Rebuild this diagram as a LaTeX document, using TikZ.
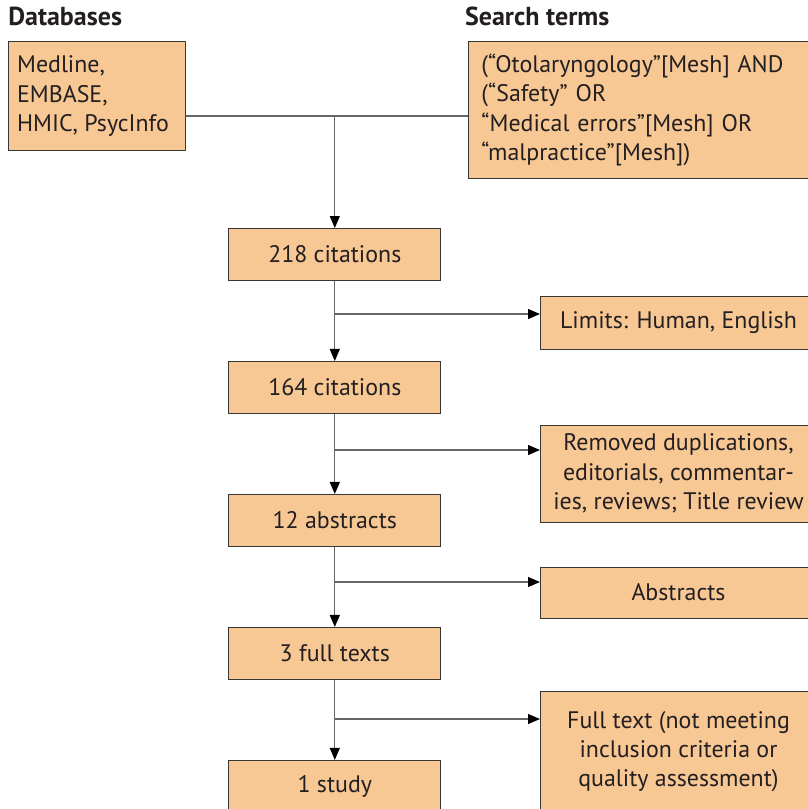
\documentclass[tikz,border=0pt]{standalone}
\usepackage{fontspec}
\setmainfont{PT Sans}
\usepackage{tikz}
\usetikzlibrary{arrows.meta,positioning,calc}
\definecolor{boxfill}{RGB}{247,199,148}
\definecolor{boxline}{RGB}{55,55,55}
\definecolor{txt}{RGB}{35,31,32}

\begin{document}
\begin{tikzpicture}[
          box/.style={draw=boxline, line width=0.7pt, fill=boxfill,
                      font=\fontsize{17}{20.8}\selectfont, text=txt,
                      align=center, inner sep=2pt},
          mainbox/.style={box, minimum width=5.3cm, minimum height=1.3cm},
          sidebox/.style={box, minimum width=6.9cm, anchor=west},
          head/.style={font=\fontsize{18.5}{20.8}\selectfont\bfseries,
                       text=txt, anchor=base west, inner sep=0pt},
          arr/.style={-{Triangle[length=0.3cm, width=0.25cm, color=black]},
                      line width=0.8pt, black!60},
          ln/.style={line width=0.8pt, black!60},
          node distance=2cm
        ]
          \useasboundingbox (0,0) rectangle (20.2,-20.225);
          % headings
          \node[head] (hdb) at (0.2,-0.63) {Databases};
          \node[head] (hst) at (11.62,-0.63) {Search terms};
          % sources
          \node[box, anchor=north west, minimum width=4.425cm,
                minimum height=2.725cm, align=left] (db) at (0.2,-1.025)
                {Medline,\\EMBASE,\\HMIC, PsycInfo\hspace*{0.2cm}};
          \node[box, anchor=north west, minimum width=8.8cm,
                minimum height=3.425cm, align=left, text width=8.15cm]
                (srch) at (11.7,-1.025)
                {(“Otolaryngology”[Mesh] AND\\(“Safety” OR\\“Medical errors”[Mesh] OR\\“malpractice”[Mesh])};
          % main column
          \node[mainbox] (c218) at (8.37,-6.3625) {218 citations};
          \node[mainbox, below=of c218] (c164) {164 citations};
          \node[mainbox, below=of c164] (abs12) {12 abstracts};
          \node[mainbox, below=of abs12] (full3) {3 full texts};
          \node[mainbox, below=of full3] (study1) {1 study};
          % exclusions
          \node[sidebox, minimum height=1.325cm] (lim) at (13.5,-8.0625)
                {Limits: Human, English};
          \node[sidebox, minimum height=2.425cm] (rem) at (13.5,-11.8375)
                {Removed duplications,\\editorials, commentar-\\ies, reviews; Title review};
          \node[sidebox, minimum height=1.275cm] (absx) at (13.5,-14.8125)
                {Abstracts};
          \node[sidebox, minimum height=3.025cm] (fullx) at (13.5,-18.7875)
                {Full text (not meeting\\inclusion criteria or\\quality assessment)};
          % junctions
          \coordinate (j0) at (8.37,-2.9);
          \coordinate (j1) at (8.37,-7.85);
          \coordinate (j2) at (8.37,-11.25);
          \coordinate (j3) at (8.37,-14.55);
          \coordinate (j4) at (8.37,-17.975);
          \draw[ln] (db.east |- j0) -- (srch.west |- j0);
          \draw[arr] (j0) -- (c218);
          \draw[arr] (c218) -- (c164);
          \draw[arr] (c164) -- (abs12);
          \draw[arr] (abs12) -- (full3);
          \draw[arr] (full3) -- (study1);
          \draw[arr] (j1) -- (j1 -| lim.west);
          \draw[arr] (j2) -- (j2 -| rem.west);
          \draw[arr] (j3) -- (j3 -| absx.west);
          \draw[arr] (j4) -- (j4 -| fullx.west);
        \end{tikzpicture}
\end{document}
